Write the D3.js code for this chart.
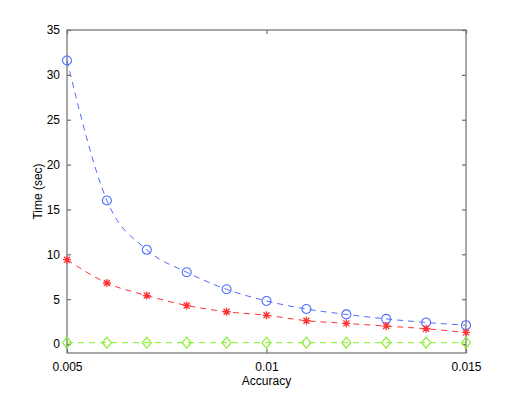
<!DOCTYPE html>
<html>
<head>
<meta charset="utf-8">
<script src="https://cdn.jsdelivr.net/npm/d3@7"></script>
<style>
body { margin: 0; background: #fff; }
svg text { font-family: "Liberation Sans", Arial, sans-serif; font-size: 12px; fill: #000; }
</style>
</head>
<body>
<div id="chart"></div>
<script>
// data
var accuracy = [0.005, 0.006, 0.007, 0.008, 0.009, 0.010, 0.011, 0.012, 0.013, 0.014, 0.015];
var timeBlue = [31.6, 16.0, 10.5, 8.0, 6.1, 4.8, 3.9, 3.3, 2.8, 2.4, 2.1];
var timeRed = [9.4, 6.8, 5.4, 4.3, 3.6, 3.2, 2.6, 2.3, 2.0, 1.7, 1.3];
var timeGreen = [0.15, 0.15, 0.15, 0.15, 0.15, 0.15, 0.15, 0.15, 0.15, 0.15, 0.15];
var xTicks = [0.005, 0.01, 0.015];
var yTicks = [0, 5, 10, 15, 20, 25, 30, 35];

var W = 515, H = 399;
var margin = {left: 67, right: 49, top: 30, bottom: 46};

var svg = d3.select("#chart").append("svg")
	.attr("width", W)
	.attr("height", H);

var x = d3.scaleLinear().domain([0.005, 0.015]).range([margin.left, W - margin.right]);
var y = d3.scaleLinear().domain([-1, 35]).range([H - margin.bottom, margin.top]);

var axisColor = "#6e6e6e";

// box
svg.append("rect")
	.attr("x", x.range()[0])
	.attr("y", y.range()[1])
	.attr("width", x.range()[1] - x.range()[0])
	.attr("height", y.range()[0] - y.range()[1])
	.attr("fill", "none")
	.attr("stroke", axisColor)
	.attr("stroke-width", 1.2);

// axes, ticks inward
var gx = svg.append("g")
	.attr("transform", "translate(0," + y.range()[0] + ")")
	.call(d3.axisBottom(x).tickValues(xTicks).tickSize(-4).tickPadding(9).tickFormat(d3.format("")));
var gxTop = svg.append("g")
	.attr("transform", "translate(0," + y.range()[1] + ")")
	.call(d3.axisTop(x).tickValues(xTicks).tickSize(-4).tickFormat(""));
var gy = svg.append("g")
	.attr("transform", "translate(" + x.range()[0] + ",0)")
	.call(d3.axisLeft(y).tickValues(yTicks).tickSize(-4).tickPadding(7));
var gyRight = svg.append("g")
	.attr("transform", "translate(" + x.range()[1] + ",0)")
	.call(d3.axisRight(y).tickValues(yTicks).tickSize(-4).tickFormat(""));

[gx, gxTop, gy, gyRight].forEach(function(g){
	g.select(".domain").remove();
	g.selectAll(".tick line").attr("stroke", axisColor).attr("stroke-width", 1.2);
	g.selectAll(".tick text").style("font-size", "12px").attr("fill", "#000");
});

// axis titles
svg.append("text")
	.attr("x", (x.range()[0] + x.range()[1]) / 2)
	.attr("y", 385)
	.attr("text-anchor", "middle")
	.text("Accuracy");

svg.append("text")
	.attr("transform", "translate(42," + ((y.range()[0] + y.range()[1]) / 2) + ") rotate(-90)")
	.attr("text-anchor", "middle")
	.text("Time (sec)");

var series = [
	{values: timeBlue, color: "#4f6bff", marker: "circle"},
	{values: timeRed, color: "#ff3333", marker: "star"},
	{values: timeGreen, color: "#80ee20", marker: "diamond"}
];

var line = d3.line()
	.x(function(d){ return x(d[0]); })
	.y(function(d){ return y(d[1]); })
	.curve(d3.curveMonotoneX);

series.forEach(function(s){
	var pts = accuracy.map(function(a, i){ return [a, s.values[i]]; });

	svg.append("path")
		.datum(pts)
		.attr("d", line)
		.attr("fill", "none")
		.attr("stroke", s.color)
		.attr("stroke-width", 1)
		.attr("stroke-dasharray", "6,5");

	var m = svg.append("g").selectAll("g")
		.data(pts)
		.enter().append("g")
		.attr("transform", function(d){ return "translate(" + x(d[0]) + "," + y(d[1]) + ")"; });

	if(s.marker == "circle"){
		m.append("circle")
			.attr("r", 4.5)
			.attr("fill", "none")
			.attr("stroke", s.color)
			.attr("stroke-width", 1.1);
	}else if(s.marker == "diamond"){
		m.append("path")
			.attr("d", "M0,-5.5L4.5,0L0,5.5L-4.5,0Z")
			.attr("fill", "none")
			.attr("stroke", s.color)
			.attr("stroke-width", 1.1);
	}else{
		// asterisk
		m.append("path")
			.attr("d", "M-4,0L4,0M0,-4L0,4M-3,-3L3,3M-3,3L3,-3")
			.attr("stroke", s.color)
			.attr("stroke-width", 1.3);
	}
});
</script>
</body>
</html>
